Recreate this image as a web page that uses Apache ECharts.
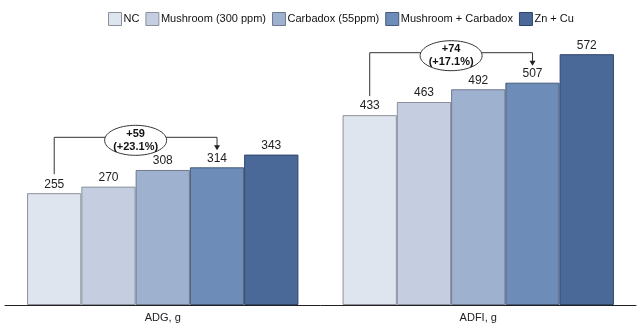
<!DOCTYPE html>
<html><head><meta charset="utf-8">
<script src="https://cdn.jsdelivr.net/npm/echarts@6/dist/echarts.min.js"></script>
<style>html,body{margin:0;padding:0;background:#fff}#c{width:640px;height:327px}</style>
</head><body><div id="c"></div>
<script>
const categories = ['ADG, g', 'ADFI, g'];
const seriesNames = ['NC', 'Mushroom (300 ppm)', 'Carbadox (55ppm)', 'Mushroom + Carbadox', 'Zn + Cu'];
const nc = [255, 433];
const mushroom = [270, 463];
const carbadox = [308, 492];
const mushCarb = [314, 507];
const znCu = [343, 572];
const diffLabels = ['+59', '+74'];
const pctLabels = ['(+23.1%)', '(+17.1%)'];

const colors = ['#dfe5ee', '#c4cee0', '#9eb1cf', '#6d8cb8', '#4a6898'];
const borders = ['#8c9098', '#8a909c', '#6f7a8e', '#46597a', '#2f4469'];
const values = [nc, mushroom, carbadox, mushCarb, znCu];
const FONT = 'Liberation Sans, Arial, sans-serif';
const gapFrac = 0.14;

const chart = echarts.init(document.getElementById('c'), null, {renderer: 'canvas'});
const option = {
  animation: false,
  textStyle: {fontFamily: FONT},
  legend: {
    top: 7, left: 103,
    itemWidth: 13, itemHeight: 13, itemGap: 6,
    textStyle: {fontSize: 11, color: '#111', fontFamily: FONT, padding: [0, 0, 0, -3]},
    data: seriesNames.map((n, i) => ({name: n, icon: 'rect', itemStyle: {borderColor: borders[i], borderWidth: 1}}))
  },
  grid: {left: 5, right: 4, top: 20, bottom: 22},
  xAxis: {
    type: 'category', data: categories,
    axisLine: {lineStyle: {color: '#222', width: 1}},
    axisTick: {show: false},
    axisLabel: {fontSize: 11, color: '#222', margin: 7, fontFamily: FONT}
  },
  yAxis: {type: 'value', min: 0, max: 650, show: false, splitLine: {show: false}},
  series: seriesNames.map((n, i) => ({
    name: n, type: 'bar', data: values[i],
    barGap: '0%', barCategoryGap: (gapFrac * 100) + '%',
    itemStyle: {color: colors[i], borderColor: borders[i], borderWidth: 1},
    label: {show: true, position: 'top', fontSize: 12, color: '#222', distance: 3, fontFamily: FONT}
  }))
};
chart.setOption(option);

function drawAnnotations() {
  const graphics = [];
  const n = seriesNames.length;
  const c0 = chart.convertToPixel({xAxisIndex: 0}, 0);
  const c1 = chart.convertToPixel({xAxisIndex: 0}, 1);
  const band = c1 - c0;
  const barW = band * (1 - gapFrac) / n;
  for (let k = 0; k < categories.length; k++) {
    const center = chart.convertToPixel({xAxisIndex: 0}, k);
    const start = center - barW * n / 2;
    const xA = start + 0.5 * barW;
    const xB = start + 3.5 * barW;
    const yA = chart.convertToPixel({yAxisIndex: 0}, nc[k]);
    const yB = chart.convertToPixel({yAxisIndex: 0}, mushCarb[k]);
    const yTop = yB - 30;
    const lineStart = yA - 19;
    const arrowTip = yB - 17;
    const style = {stroke: '#333', lineWidth: 1, fill: null};
    graphics.push({type: 'polyline', shape: {points: [[xA, lineStart], [xA, yTop], [xB, yTop], [xB, arrowTip - 4]]}, style: style, z: 10});
    graphics.push({type: 'polygon', shape: {points: [[xB - 3, arrowTip - 5], [xB + 3, arrowTip - 5], [xB, arrowTip]]}, style: {fill: '#222'}, z: 10});
    const cx = (xA + xB) / 2;
    graphics.push({type: 'ellipse', shape: {cx: cx, cy: yTop + 3, rx: 31, ry: 15}, style: {fill: '#fff', stroke: '#333', lineWidth: 1}, z: 11});
    graphics.push({type: 'text', x: cx, y: yTop + 3, style: {text: diffLabels[k] + '\n' + pctLabels[k], align: 'center', verticalAlign: 'middle', fontSize: 11, fontWeight: 'bold', fill: '#111', lineHeight: 13, fontFamily: FONT}, z: 12});
  }
  chart.setOption({graphic: graphics});
}
drawAnnotations();
</script>
</body></html>
